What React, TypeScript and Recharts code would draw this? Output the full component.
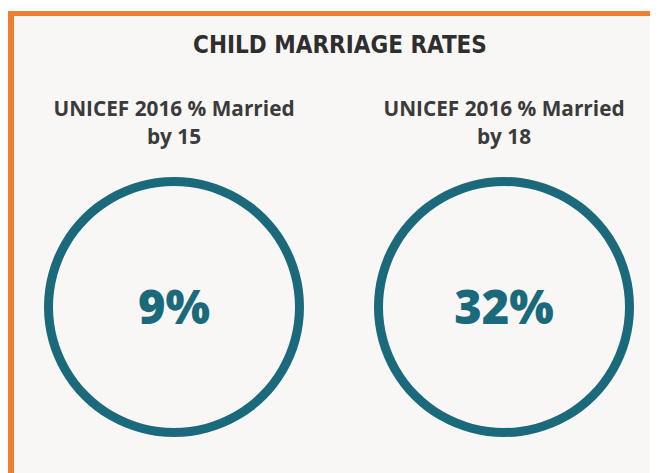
import React from "react";
import { PieChart, Pie, Cell } from "recharts";

const chartTitle = "CHILD MARRIAGE RATES";
const categories = ["UNICEF 2016 % Married by 15", "UNICEF 2016 % Married by 18"];
const headingLine1 = ["UNICEF 2016 % Married", "UNICEF 2016 % Married"];
const headingLine2 = ["by 15", "by 18"];
const values = [9, 32];

const TEAL = "#1b6a7b";
const ORANGE = "#ef7d32";
const BG = "#f9f7f6";
const TEXT = "#3b3b3b";

const W = 650;
const H = 465;
const centersX = [161, 491];
const centerY = 294;

const renderCenter = (v: number) => (props: any) => (
  <text
    x={props.cx}
    y={props.cy - 1}
    textAnchor="middle"
    dominantBaseline="central"
    fill={TEAL}
    style={{ fontFamily: "'Open Sans', sans-serif", fontWeight: 800, fontSize: 47 }}
  >
    {`${v}%`}
  </text>
);

export default function App() {
  return (
    <div style={{ position: "relative", width: W, height: H, background: "#ffffff" }}>
      <div
        style={{
          position: "absolute",
          left: 0,
          top: 3,
          right: 0,
          bottom: 0,
          background: BG,
          borderTop: `5px solid ${ORANGE}`,
          borderLeft: `6px solid ${ORANGE}`,
        }}
      />
      <div
        style={{
          position: "absolute",
          left: 0,
          width: W,
          top: 23,
          textAlign: "center",
          paddingLeft: 14,
          boxSizing: "border-box",
          fontFamily: "'DejaVu Sans Condensed', 'DejaVu Sans', sans-serif",
          fontStretch: "condensed",
          fontWeight: 700,
          fontSize: 24,
          color: "#2e2e2e",
        }}
      >
        {chartTitle}
      </div>
      {categories.map((c, i) => (
        <div
          key={c}
          style={{
            position: "absolute",
            left: centersX[i] + 5 - 150,
            width: 300,
            top: 86,
            textAlign: "center",
            fontFamily: "'Open Sans', sans-serif",
            fontWeight: 700,
            fontSize: 20.8,
            lineHeight: "28px",
            color: TEXT,
          }}
        >
          <div>{headingLine1[i]}</div>
          <div>{headingLine2[i]}</div>
        </div>
      ))}
      <div style={{ position: "absolute", left: 0, top: 0 }}>
        <PieChart width={W} height={H}>
          {values.map((v, i) => (
            <Pie
              key={categories[i]}
              data={[{ name: categories[i], value: v }]}
              dataKey="value"
              cx={centersX[i]}
              cy={centerY}
              innerRadius={121}
              outerRadius={130}
              startAngle={90}
              endAngle={-270}
              stroke="none"
              label={renderCenter(v)}
              labelLine={false}
              isAnimationActive={false}
            >
              <Cell fill={TEAL} />
            </Pie>
          ))}
        </PieChart>
      </div>
    </div>
  );
}
